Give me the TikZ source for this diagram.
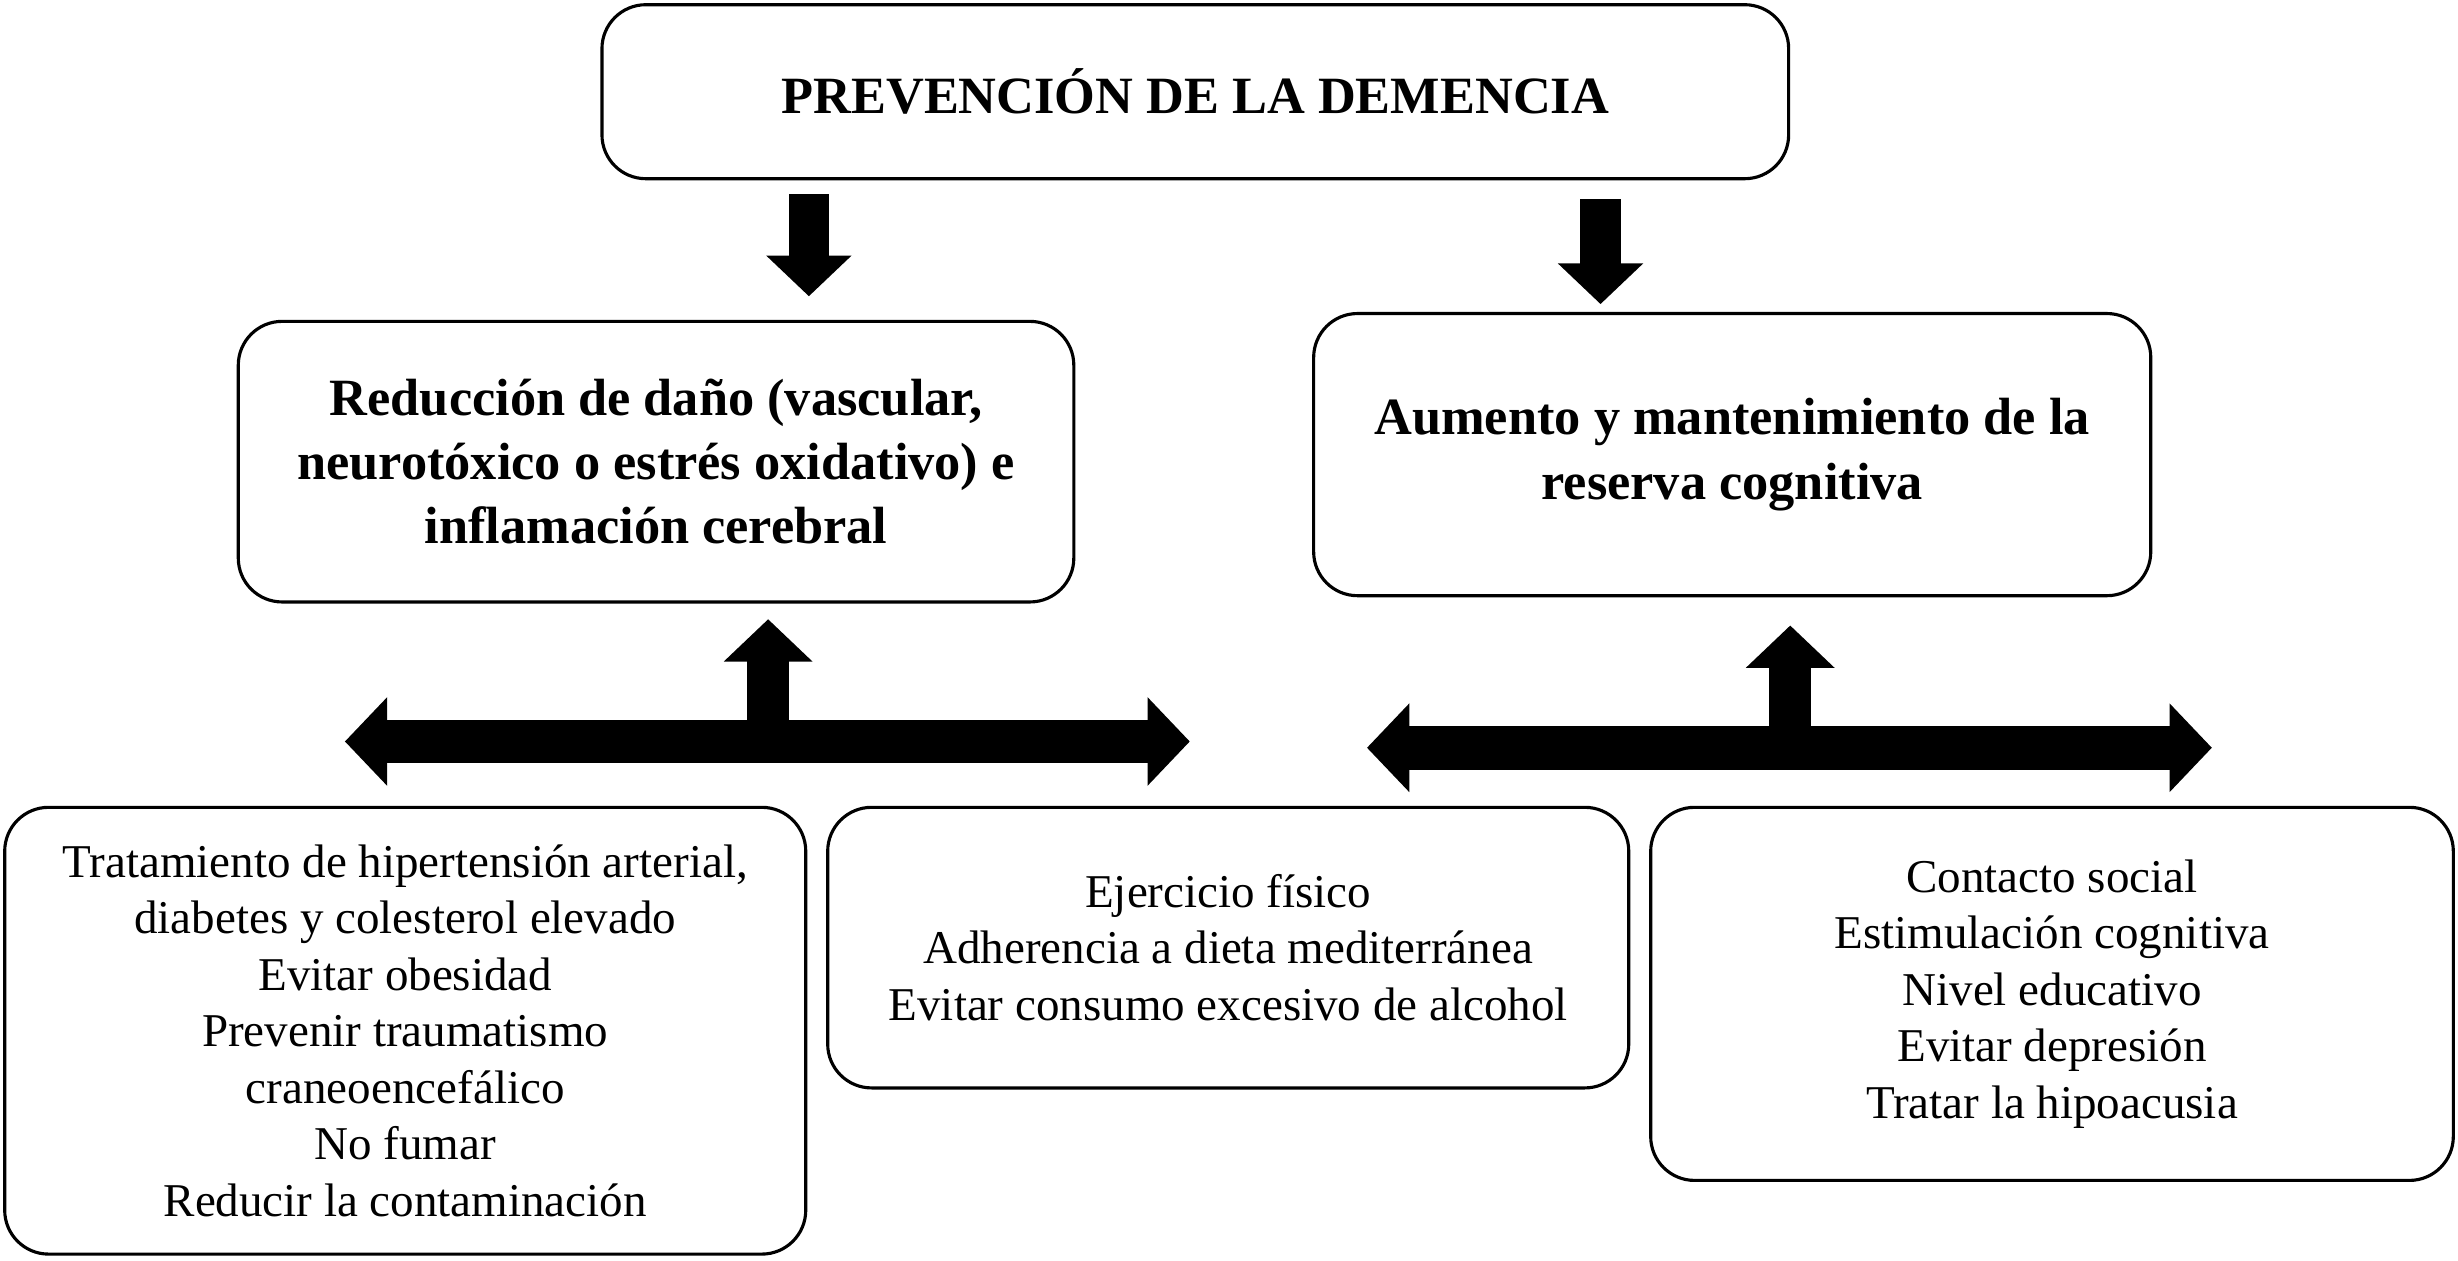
\documentclass[tikz,border=0pt]{standalone}
\usepackage{fontspec}
\setmainfont{Liberation Serif}
\usetikzlibrary{arrows.meta}
\tikzset{round box/.style 2 args={
    draw,
    line width=1pt,
    rounded corners=14pt,
    minimum width=#1,
    minimum height=#2,
    align=center,
    inner sep=0pt
  },
  head box/.style 2 args={round box={#1}{#2},
    font=\fontsize{16.7}{20.5}\selectfont\bfseries},
  item box/.style 2 args={round box={#1}{#2},
    font=\fontsize{15}{18}\selectfont},
  fat tip/.tip={Triangle[width=27.5pt,length=13.5pt]},
  fat arrow/.style={line width=13pt, -{Triangle[width=26.5pt,length=13pt]}},
  fat up arrow/.style={line width=13.5pt, -{fat tip}},
  fat double arrow/.style={line width=14pt, {fat tip}-{fat tip}}
}

\begin{document}
\begin{tikzpicture}[x=0.5pt,y=-0.5pt]
    \useasboundingbox (0,0) rectangle (1568,803.8);
    \node[head box={378.5pt}{55.5pt}] (prevencion) at (762.5,58.5)
        {PREVENCIÓN DE LA DEMENCIA};
    \node[head box={266.5pt}{89.5pt}] (dano) at (418.5,294.5)
        {Reducción de daño (vascular,\\neurotóxico o estrés oxidativo) e\\inflamación cerebral};
    \node[head box={267pt}{90pt}] (reserva) at (1105,290)
        {Aumento y mantenimiento de la\\reserva cognitiva};
    \node[item box={255.5pt}{142.5pt}] (vascular) at (258.5,657.5)
        {Tratamiento de hipertensión arterial,\\diabetes y colesterol elevado\\Evitar obesidad\\Prevenir traumatismo\\craneoencefálico\\No fumar\\Reducir la contaminación};
    \node[item box={255.5pt}{89.5pt}] (habitos) at (783.5,604.5)
        {Ejercicio físico\\Adherencia a dieta mediterránea\\Evitar consumo excesivo de alcohol};
    \node[item box={256pt}{119pt}] (social) at (1309,634)
        {Contacto social\\Estimulación cognitiva\\Nivel educativo\\Evitar depresión\\Tratar la hipoacusia};

    \coordinate (bajaL) at (516,124);
    \coordinate (llegaL) at (516,189);
    \coordinate (bajaR) at (1021,127);
    \coordinate (llegaR) at (1021,194);
    \coordinate (ejeL) at (490,473);
    \coordinate (ejeR) at (1142,477);
    \coordinate (subeL) at (490,395);
    \coordinate (subeR) at (1142,399);

    \draw[fat arrow] (bajaL) -- (llegaL);
    \draw[fat arrow] (bajaR) -- (llegaR);
    \draw[fat double arrow] (ejeL -| 220,0) -- (ejeL -| 759,0);
    \draw[fat double arrow] (ejeR -| 872,0) -- (ejeR -| 1411,0);
    \draw[fat up arrow] (ejeL) -- (subeL);
    \draw[fat up arrow] (ejeR) -- (subeR);
\end{tikzpicture}
\end{document}
